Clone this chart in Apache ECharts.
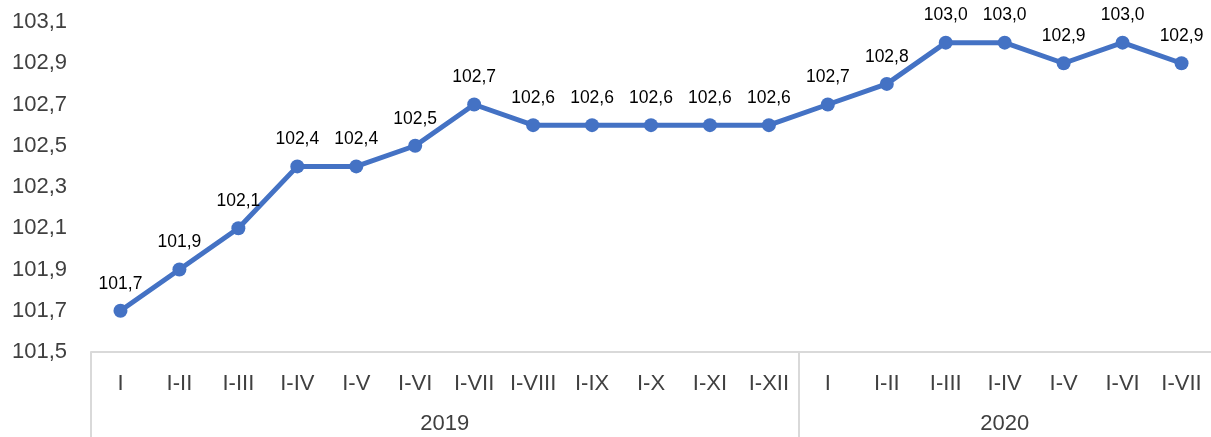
<!DOCTYPE html>
<html>
<head>
<meta charset="utf-8">
<script src="https://cdn.jsdelivr.net/npm/echarts@6/dist/echarts.min.js"></script>
<style>
  html, body { margin: 0; padding: 0; background: #fff; }
  #chart { width: 1211px; height: 437px; }
</style>
</head>
<body>
<div id="chart"></div>
<script>
// months of each year group
const months = ['I', 'I-II', 'I-III', 'I-IV', 'I-V', 'I-VI', 'I-VII', 'I-VIII', 'I-IX', 'I-X', 'I-XI', 'I-XII',
  'I', 'I-II', 'I-III', 'I-IV', 'I-V', 'I-VI', 'I-VII'];
const values = [101.7, 101.9, 102.1, 102.4, 102.4, 102.5, 102.7, 102.6, 102.6, 102.6, 102.6, 102.6,
  102.7, 102.8, 103.0, 103.0, 102.9, 103.0, 102.9];
const years = ['2019', '2020'];
const yearSizes = [12, 7];
const yTicks = [101.5, 101.7, 101.9, 102.1, 102.3, 102.5, 102.7, 102.9, 103.1];

const fmt = v => v.toFixed(1).replace('.', ',');

// year group boundaries and centres, in category units
const bounds = [0];
yearSizes.forEach(n => bounds.push(bounds[bounds.length - 1] + n));
const centres = years.map((y, i) => (bounds[i] + bounds[i + 1]) / 2);

const font = 'Liberation Sans, Arial';
const chart = echarts.init(document.getElementById('chart'));

chart.setOption({
  animation: false,
  grid: { left: 91, top: 22, width: 1123, height: 330 },
  xAxis: [
    {
      type: 'category',
      data: months,
      boundaryGap: true,
      axisLine: { show: true, lineStyle: { color: '#d9d9d9', width: 2 } },
      axisTick: { show: false },
      axisLabel: { color: '#404040', fontSize: 22, fontFamily: font, margin: 21, interval: 0 }
    },
    {
      type: 'value',
      position: 'bottom',
      min: 0,
      max: bounds[bounds.length - 1],
      splitLine: { show: false },
      axisLine: { show: false },
      axisTick: {
        show: true,
        // last boundary falls just outside the picture
        customValues: bounds.slice(0, -1),
        length: 90,
        lineStyle: { color: '#d9d9d9', width: 2 }
      },
      axisLabel: {
        customValues: centres,
        formatter: v => years[centres.indexOf(v)] || '',
        color: '#404040', fontSize: 22, fontFamily: font, margin: 61
      }
    }
  ],
  yAxis: {
    type: 'value',
    min: 101.5,
    max: 103.1,
    splitLine: { show: false },
    axisLine: { show: false },
    axisTick: { show: false },
    axisLabel: {
      customValues: yTicks,
      formatter: v => fmt(v),
      color: '#404040', fontSize: 22, fontFamily: font, margin: 24
    }
  },
  series: [{
    type: 'line',
    xAxisIndex: 0,
    data: values,
    symbol: 'circle',
    symbolSize: 14,
    lineStyle: { color: '#4472c4', width: 5 },
    itemStyle: { color: '#4472c4' },
    label: {
      show: true,
      position: 'top',
      distance: 11,
      formatter: p => fmt(p.value),
      color: '#000',
      fontSize: 17.5,
      fontFamily: font
    }
  }]
});
</script>
</body>
</html>
